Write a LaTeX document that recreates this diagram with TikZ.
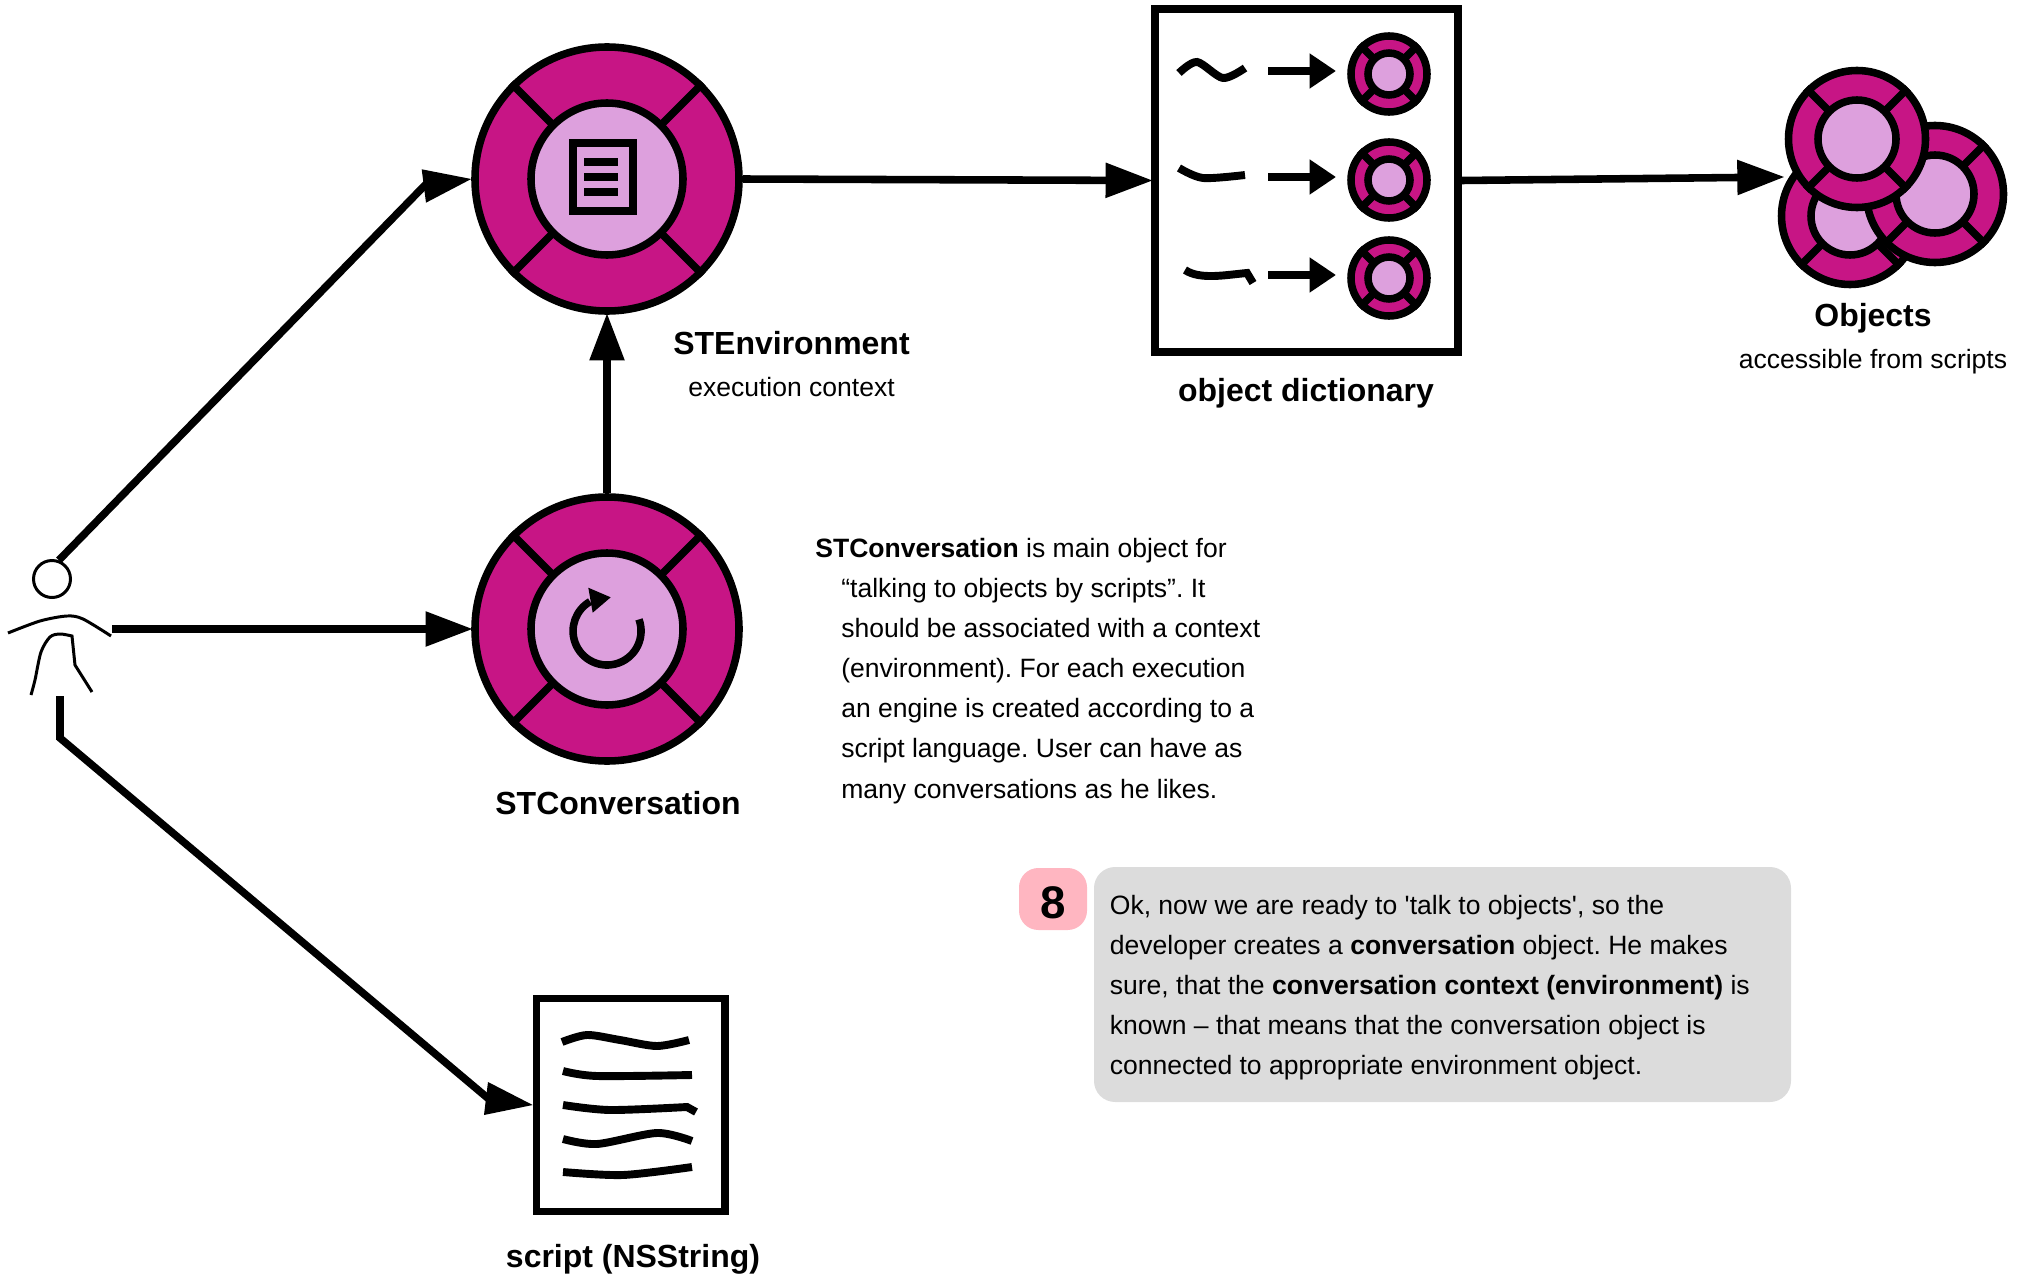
\documentclass[tikz,border=0pt]{standalone}
\usepackage{fontspec}
\usepackage{tikz}
\usetikzlibrary{arrows.meta}
\newfontfamily\diagramfont{Liberation Sans}
\definecolor{ringcolor}{HTML}{C71585}
\definecolor{hubcolor}{HTML}{DDA0DD}
\definecolor{badgecolor}{HTML}{FFB6C1}
\definecolor{notecolor}{HTML}{DCDCDC}
\newcommand{\pxu}{0.02cm}
\frenchspacing
\tikzset{
	conn/.style={line width=4.3pt, shorten >=-1pt, -{Triangle[length=27pt,width=19pt]}},
	smallconn/.style={line width=4.5pt, -{Triangle[length=15pt,width=19pt]}},
	ring/.style={circle, draw=black, fill=ringcolor, line width=4.3pt, inner sep=0pt},
	hub/.style={circle, draw=black, fill=hubcolor, line width=4.3pt, inner sep=0pt},
	sheet/.style={rectangle, draw=black, fill=white, line width=4.3pt, inner sep=0pt},
	squiggle/.style={line width=4.5pt},
	figure/.style={line width=1.7pt},
	title/.style={font=\diagramfont\bfseries\fontsize{18.2}{22}\selectfont},
	subtitle/.style={font=\diagramfont\fontsize{15.1}{22.8}\selectfont},
	body/.style={font=\diagramfont\fontsize{15.1}{22.8}\selectfont, align=left, inner sep=0pt}
}
% name, centre, ring radius, hub radius
\newcommand{\discnode}[4]{
	\node[ring, minimum size=2*#3*\pxu] (#1) at (#2) {};
	\draw[line width=4.3pt] (#1.45) -- (#1.225);
	\draw[line width=4.3pt] (#1.135) -- (#1.315);
	\node[hub, minimum size=2*#4*\pxu] (#1hub) at (#2) {};
}

\begin{document}
\begin{tikzpicture}[x=0.02cm, y=-0.02cm]
	\useasboundingbox (0,0) rectangle (2026,1274);

	% Environment and conversation
	\discnode{env}{607,179}{132}{76}
	\discnode{conv}{607,629}{132}{76}

	% Icon of the environment
	\node[sheet, fill=none, minimum width=60*\pxu, minimum height=68*\pxu] (envdoc) at (603,177) {};
	\foreach \y in {162,177,192}
		\draw[line width=4.5pt] (584,\y) -- (618,\y);

	% Icon of the conversation
	\draw[line width=4.3pt] (639,619.4) arc[start angle=20, end angle=-240, radius=0.68cm];
	\fill[black] (588.3,587.7) -- (610.7,597.3) -- (592.7,612.7) -- cycle;

	% Object dictionary
	\node[sheet, minimum width=303*\pxu, minimum height=343*\pxu] (dict) at (1306.5,180.5) {};
	\foreach \row/\y in {a/74,b/180,c/278} {
		\discnode{key\row}{1389,\y}{38}{21}
		\coordinate (keyfrom\row) at (1268,\y-3);
		\coordinate (keyto\row) at (1336,\y-3);
		\draw[smallconn] (keyfrom\row) -- (keyto\row);
	}
	\draw[squiggle] plot[smooth] coordinates {(1179,73) (1197,62) (1223,78) (1245,68)};
	\draw[squiggle] plot[smooth] coordinates {(1179,168) (1203,178) (1245,175)};
	\draw[squiggle] (1185,270) .. controls (1200,280) and (1225,275) .. (1247,273) -- (1253,283);

	% Objects
	\discnode{objb}{1850,216}{68.5}{39}
	\discnode{objc}{1935,194}{68.5}{39}
	\discnode{obja}{1857,139}{68.5}{39}
	\coordinate (objin) at (1783,177);

	% Script
	\node[sheet, minimum width=188.5*\pxu, minimum height=213*\pxu] (script) at (630.75,1105) {};
	\draw[squiggle] plot[smooth] coordinates {(562,1042) (587,1035) (620,1040) (657,1046) (689,1040)};
	\draw[squiggle] plot[smooth] coordinates {(563,1071) (597,1076) (692,1075)};
	\draw[squiggle] plot[smooth] coordinates {(563,1105) (610,1110) (687,1107)} -- (696,1112);
	\draw[squiggle] plot[smooth] coordinates {(563,1139) (597,1144) (657,1133) (692,1141)};
	\draw[squiggle] plot[smooth] coordinates {(563,1172) (623,1175) (692,1167)};

	% Actor
	\node[circle, draw=black, figure, fill=white, inner sep=0pt, minimum size=37*\pxu] (actorhead) at (52,579) {};
	\draw[figure] plot[smooth] coordinates {(8,633) (40,621) (67,616) (83,619) (111,636)};
	\draw[figure] plot[smooth] coordinates {(31,695) (35,680) (41,652) (50,637) (60,634) (72,636)} -- (75,665) -- (92,692);
	\coordinate (actorhand) at (112,629);
	\coordinate (actorfoot) at (60,696);
	\coordinate (actorbend) at (60,738);

	% Heads of the two slanted connectors
	\coordinate (envbase) at (430,180);
	\coordinate (envheada) at (421.7,169.3);
	\coordinate (envheadb) at (426,202.7);
	\coordinate (scriptbase) at (490,1100);
	\coordinate (scriptheada) at (488,1082);
	\coordinate (scriptheadb) at (484,1115);

	% Connectors
	\draw[line width=4.3pt] (actorhead.70) -- (envbase);
	\fill[black] (envheada) -- (env.west) -- (envheadb) -- cycle;
	\draw[conn] (actorhand) -- (conv.west);
	\draw[line width=4.3pt] (actorfoot) -- (actorbend) -- (scriptbase);
	\fill[black] (scriptheada) -- (script.west) -- (scriptheadb) -- cycle;
	\draw[conn] (conv.north) -- (env.south);
	\draw[conn] (env.east) -- (dict.west);
	\draw[conn] (dict.east) -- (objin);

	% Labels
	\node[title] (envtitle) at (791.5,343.5) {STEnvironment};
	\node[subtitle] (envsub) at (791.5,387.5) {execution context};
	\node[title] (dicttitle) at (1306,393) {object dictionary};
	\node[title] (objtitle) at (1873,318) {Objects};
	\node[subtitle] (objsub) at (1873,362) {accessible from scripts};
	\node[title] (convtitle) at (618,803.5) {STConversation};
	\node[title] (scripttitle) at (633,1259) {script (NSString)};

	% Description of the conversation
	\node[body, anchor=west] (convtext) at (841,671) {\hspace*{-14.8pt}\textbf{STConversation} is main object for\\
		“talking to objects by scripts”. It\\
		should be associated with a context\\
		(environment). For each execution\\
		an engine is created according to a\\
		script language. User can have as\\
		many conversations as he likes.};

	% Note
	\node[rectangle, fill=badgecolor, rounded corners=11pt, minimum width=68*\pxu, minimum height=62*\pxu, inner sep=0pt] (badge) at (1053,899) {};
	\node[inner sep=0pt, font=\diagramfont\bfseries\fontsize{26}{30}\selectfont] (badgetext) at (1053,903) {8};
	\node[rectangle, fill=notecolor, rounded corners=12pt, minimum width=697*\pxu, minimum height=235*\pxu, inner sep=0pt] (note) at (1442.5,984.5) {};
	\node[body, anchor=west] (notetext) at (1109.5,988) {Ok, now we are ready to 'talk to objects', so the\\
		developer creates a \textbf{conversation} object. He makes\\
		sure, that the \textbf{conversation context (environment)} is\\
		known – that means that the conversation object is\\
		connected to appropriate environment object.};
\end{tikzpicture}
\end{document}
